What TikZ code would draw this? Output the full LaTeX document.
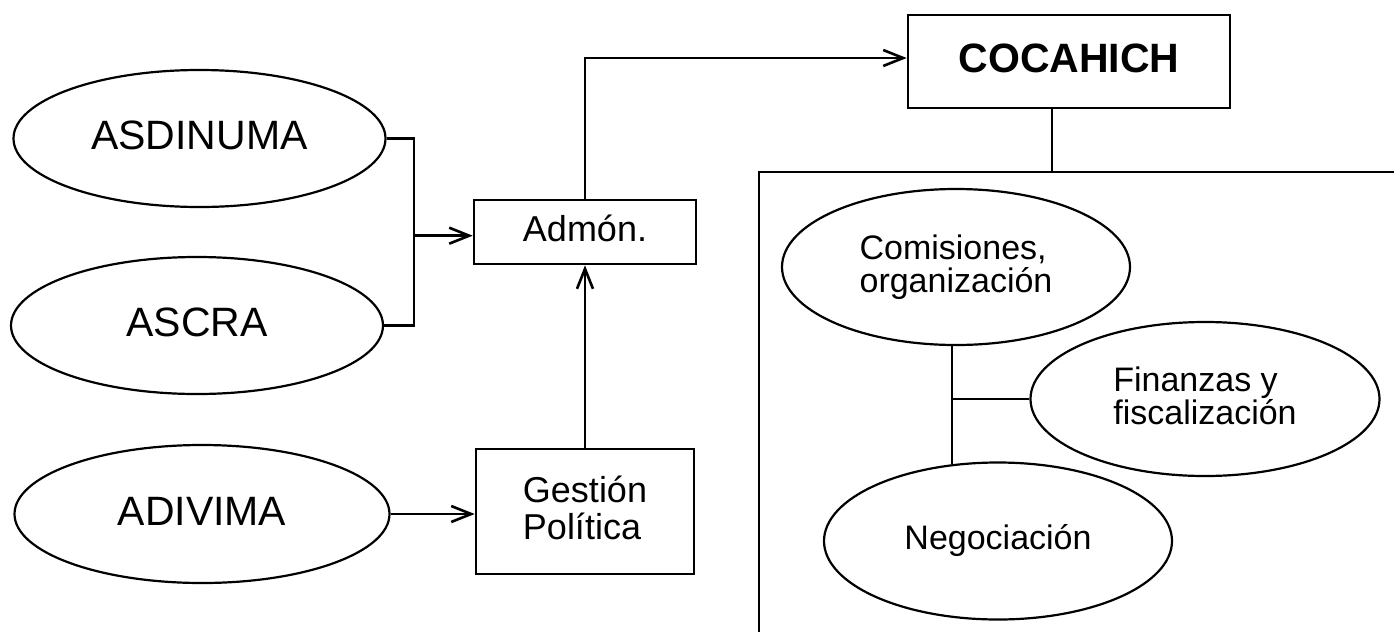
\documentclass[tikz,border=0pt]{standalone}
\usepackage{fontspec}
\setmainfont{Liberation Sans}
\usetikzlibrary{shapes.geometric,arrows.meta}
\begin{document}
\begin{tikzpicture}[x=1pt,y=-1pt,
  ov/.style={ellipse,draw,line width=2.2pt,inner sep=0pt},
  bigov/.style={ov,minimum width=372pt,minimum height=137pt,text depth=6pt,font=\fontsize{41}{41}\selectfont},
  smallov/.style={ov,minimum width=348pt,minimum height=156pt,font=\fontsize{34}{33}\selectfont,align=left},
  box/.style={draw,line width=2.6pt,inner sep=0pt},
  conn/.style={line width=2.6pt},
  arr/.style={conn,-{Straight Barb[length=20pt,width=16pt]}}
]
\useasboundingbox (0,0) rectangle (1394,632);
% left ellipses
\node[bigov] (asd) at (199.5,138.5) {ASDINUMA};
\node[bigov] (ascra) at (197,325.5) {ASCRA};
\node[bigov,minimum width=375pt,minimum height=138pt] (adi) at (202,514) {ADIVIMA};
% boxes
\node[box,minimum width=222pt,minimum height=64pt,text depth=7.6pt,font=\fontsize{36}{36}\selectfont] (adm) at (585,232) {Admón.};
\node[box,minimum width=218pt,minimum height=125pt,align=left,font=\fontsize{36}{37}\selectfont] (ges) at (585,511.5) {Gestión\\Política\vphantom{g}};
\node[box,minimum width=322pt,minimum height=93pt,text depth=7pt,font=\bfseries\fontsize{41}{41}\selectfont] (coc) at (1069,61.5) {COCAHICH};
% right ellipses
\node[smallov] (com) at (956,267) {Comisiones,\\organización};
\node[smallov,minimum width=349pt,minimum height=154pt] (fin) at (1205,399) {Finanzas y\\fiscalización\vphantom{g}};
\node[smallov,minimum height=157pt] (neg) at (998,541) {Negociación};
% coordinates
\coordinate (jt) at (414,235.7);
\coordinate (ptop) at (1052,172);
\coordinate (pright) at (1394,172);
\coordinate (pcorner) at (759,172);
\coordinate (pbottom) at (759,632);
\coordinate (vj) at (952,399);
% connectors
\draw[conn] (asd.east) -| (jt) |- (ascra.east);
\draw[arr] (jt) -- (adm.west |- jt);
\draw[arr] (adi.east) -- (ges.west |- adi.east);
\draw[arr] (ges.north) -- (adm.south);
\draw[arr] (adm.north) |- ([yshift=3.5pt]coc.west);
\draw[conn] (ptop |- coc.south) -- (ptop);
\draw[conn] (pright) -- (pcorner) -- (pbottom);
\draw[conn] (vj |- com.south) -- ([yshift=-3pt]vj |- neg.north);
\draw[conn] (vj) -- (fin.west);
\end{tikzpicture}
\end{document}
